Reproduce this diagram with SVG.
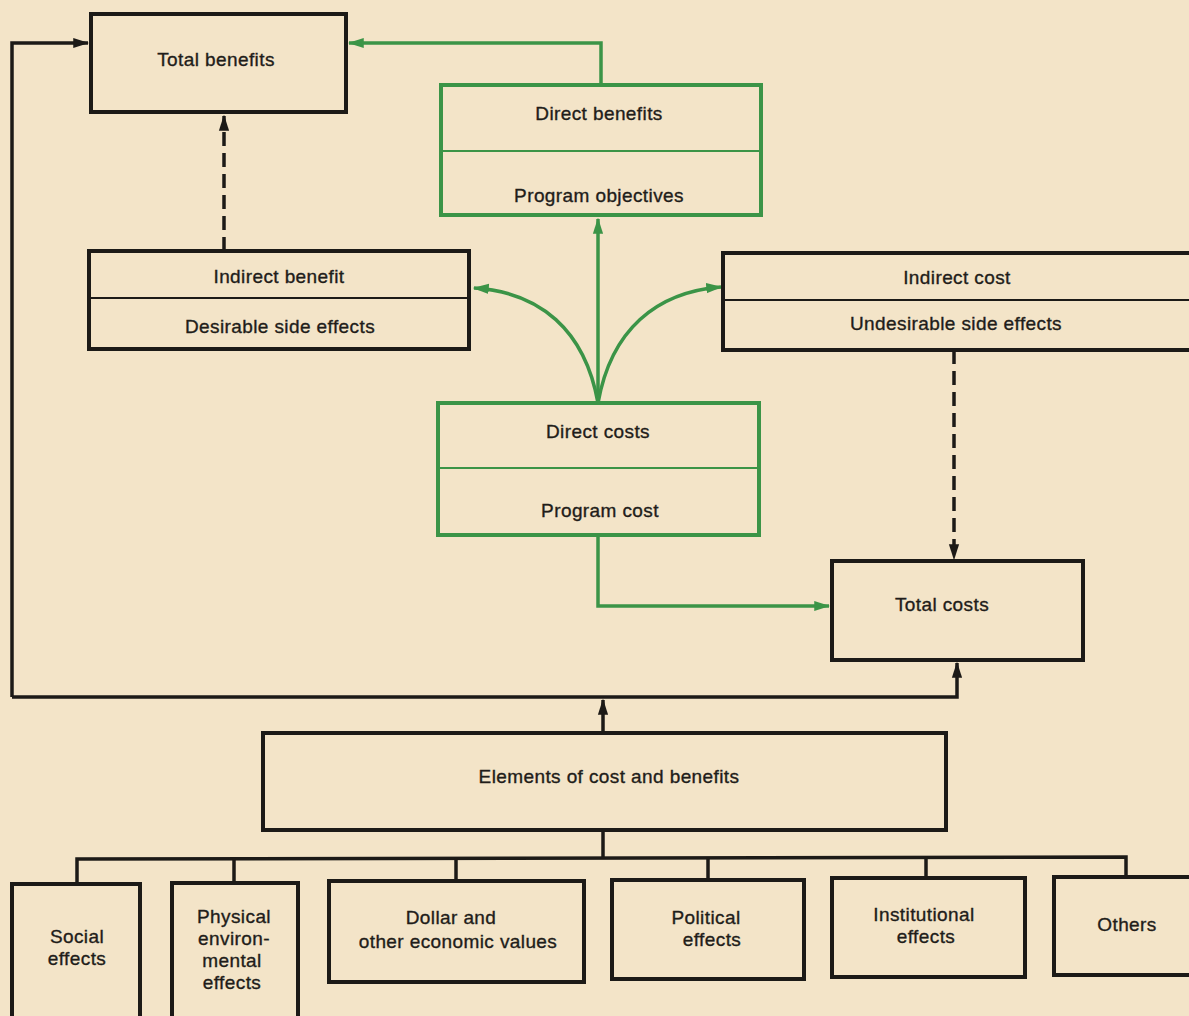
<svg xmlns="http://www.w3.org/2000/svg" width="1189" height="1016" viewBox="0 0 1189 1016">
<defs>
<marker id="ak" viewBox="0 0 12 10" refX="11" refY="5" markerWidth="4.6" markerHeight="4" orient="auto" markerUnits="strokeWidth"><path d="M0,1.2 L12,5 L0,8.8 z" fill="#1c1a17"/></marker>
<marker id="ag" viewBox="0 0 12 10" refX="11" refY="5" markerWidth="4.6" markerHeight="4" orient="auto" markerUnits="strokeWidth"><path d="M0,1.2 L12,5 L0,8.8 z" fill="#3b9447"/></marker>
</defs>
<style>
.bk{fill:none;stroke:#1c1a17;stroke-width:4}
.gr{fill:none;stroke:#3b9447;stroke-width:4}
.dk{stroke:#1c1a17;stroke-width:2}
.dg{stroke:#3b9447;stroke-width:2}
.ck{fill:none;stroke:#1c1a17;stroke-width:3.5}
.cg{fill:none;stroke:#3b9447;stroke-width:3.5}
.ds{stroke-dasharray:14 7}
text{font-family:"Liberation Sans",Arial,sans-serif;font-size:19px;letter-spacing:0.4px;fill:#1f1d1a;stroke:#1f1d1a;stroke-width:0.35;text-anchor:middle;dominant-baseline:central}
</style>
<rect width="1189" height="1016" fill="#f3e4c8"/>
<g id="connectors">
<path class="ck" d="M12,697 L12,43 L88,43" marker-end="url(#ak)"/>
<path class="cg" d="M601,85 L601,43 L349,43" marker-end="url(#ag)"/>
<path class="ck ds" d="M224,251 L224,116" marker-end="url(#ak)"/>
<path class="ck ds" d="M954,350 L954,559" marker-end="url(#ak)"/>
<path class="cg" d="M598,403 L598,219" marker-end="url(#ag)"/>
<path class="cg" d="M598,403 C585,330 540,292 474,288" marker-end="url(#ag)"/>
<path class="cg" d="M598,403 C611,330 656,292 721,287" marker-end="url(#ag)"/>
<path class="cg" d="M598,535 L598,606 L829,606" marker-end="url(#ag)"/>
<path class="ck" d="M12,697 L957,697 L957,663" marker-end="url(#ak)"/>
<path class="ck" d="M603,733 L603,700" marker-end="url(#ak)"/>
<path class="ck" d="M603,830 L603,858"/>
<path class="ck" d="M77,884 L77,859 L1126,857 L1126,877"/>
<path class="ck" d="M234,858 L234,883"/>
<path class="ck" d="M456,858 L456,881"/>
<path class="ck" d="M708,858 L708,880"/>
<path class="ck" d="M926,857 L926,878"/>
</g>
<g id="total-benefits">
<rect class="bk" x="91" y="14" width="255" height="98"/>
<text x="216" y="59">Total benefits</text>
</g>
<g id="direct-benefits">
<rect class="gr" x="441" y="85" width="320" height="130"/>
<line class="dg" x1="441" y1="151" x2="761" y2="151"/>
<text x="599" y="113">Direct benefits</text>
<text x="599" y="195">Program objectives</text>
</g>
<g id="indirect-benefit">
<rect class="bk" x="89" y="251" width="380" height="98"/>
<line class="dk" x1="89" y1="298" x2="469" y2="298"/>
<text x="279" y="276">Indirect benefit</text>
<text x="280" y="326">Desirable side effects</text>
</g>
<g id="indirect-cost">
<rect class="bk" x="723" y="253" width="480" height="97"/>
<line class="dk" x1="723" y1="300" x2="1189" y2="300"/>
<text x="957" y="277">Indirect cost</text>
<text x="956" y="323">Undesirable side effects</text>
</g>
<g id="direct-costs">
<rect class="gr" x="438" y="403" width="321" height="132"/>
<line class="dg" x1="438" y1="468" x2="759" y2="468"/>
<text x="598" y="431">Direct costs</text>
<text x="600" y="510">Program cost</text>
</g>
<g id="total-costs">
<rect class="bk" x="832" y="561" width="251" height="99"/>
<text x="942" y="604">Total costs</text>
</g>
<g id="elements">
<rect class="bk" x="263" y="733" width="683" height="97"/>
<text x="609" y="776">Elements of cost and benefits</text>
</g>
<g id="social">
<rect class="bk" x="12" y="884" width="128" height="150"/>
<text x="77" y="936">Social</text>
<text x="77" y="958">effects</text>
</g>
<g id="physical">
<rect class="bk" x="172" y="883" width="126" height="150"/>
<text x="234" y="916">Physical</text>
<text x="234" y="938">environ-</text>
<text x="232" y="960">mental</text>
<text x="232" y="982">effects</text>
</g>
<g id="dollar">
<rect class="bk" x="329" y="881" width="255" height="101"/>
<text x="451" y="917">Dollar and</text>
<text x="458" y="941">other economic values</text>
</g>
<g id="political">
<rect class="bk" x="612" y="880" width="192" height="99"/>
<text x="706" y="917">Political</text>
<text x="712" y="939">effects</text>
</g>
<g id="institutional">
<rect class="bk" x="832" y="878" width="193" height="99"/>
<text x="924" y="914">Institutional</text>
<text x="926" y="936">effects</text>
</g>
<g id="others">
<rect class="bk" x="1054" y="877" width="150" height="98"/>
<text x="1127" y="924">Others</text>
</g>
</svg>
